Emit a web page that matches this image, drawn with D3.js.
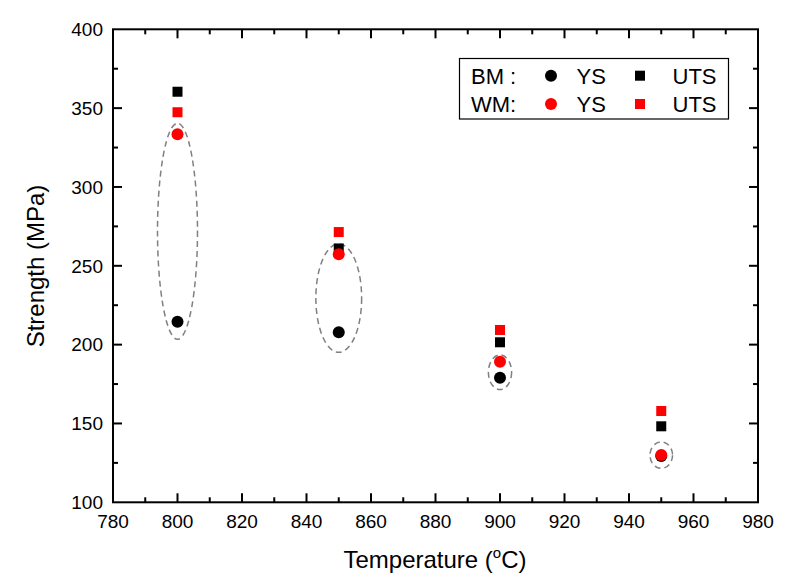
<!DOCTYPE html>
<html><head><meta charset="utf-8">
<script src="https://cdn.jsdelivr.net/npm/d3@7"></script>
<style>body{margin:0;background:#fff;} svg{display:block;font-family:"Liberation Sans",Arial,sans-serif;}</style>
</head><body>
<svg id="c" width="794" height="586"></svg>
<script>
const temperatures = [800, 850, 900, 950];
const bmYS  = [214.5, 207.8, 179, 129.4];
const bmUTS = [360.4, 261, 201.5, 148.2];
const wmYS  = [333.4, 257.3, 189.2, 130];
const wmUTS = [347.4, 271.4, 209.3, 157.9];
// dashed grouping ellipses (data units): centre strength, half-width (°C), half-height (MPa)
const ellipseCY = [271.9, 229.5, 182.5, 129.9];
const ellipseRX = [6.2, 7.1, 3.6, 3.5];
const ellipseRY = [68.5, 34.4, 11.0, 8.4];
const xTicks = [780, 800, 820, 840, 860, 880, 900, 920, 940, 960, 980];
const yTicks = [100, 150, 200, 250, 300, 350, 400];

const svg = d3.select("#c");
const L = 113, R = 758, T = 29.3, B = 502.3;
const x = d3.scaleLinear().domain([780, 980]).range([L, R]);
const y = d3.scaleLinear().domain([100, 400]).range([B, T]);

const xMinor = d3.range(790, 980, 20);
const yMinor = d3.range(125, 400, 50);

// ellipses
const g = svg.append("g");
temperatures.forEach((t, i) => {
  g.append("ellipse")
    .attr("cx", x(t)).attr("cy", y(ellipseCY[i]))
    .attr("rx", x(t + ellipseRX[i]) - x(t))
    .attr("ry", y(0) - y(ellipseRY[i]))
    .attr("fill", "none").attr("stroke", "#808080")
    .attr("stroke-width", 1.5).attr("stroke-dasharray", "6,4");
});

// axes
function drawTicks() {
  const a = svg.append("g").attr("stroke", "#000").attr("stroke-width", 2);
  xTicks.slice(1, -1).forEach(v => {
    a.append("line").attr("x1", x(v)).attr("x2", x(v)).attr("y1", B).attr("y2", B - 9);
    a.append("line").attr("x1", x(v)).attr("x2", x(v)).attr("y1", T).attr("y2", T + 9);
  });
  xMinor.forEach(v => {
    a.append("line").attr("x1", x(v)).attr("x2", x(v)).attr("y1", B).attr("y2", B - 5);
    a.append("line").attr("x1", x(v)).attr("x2", x(v)).attr("y1", T).attr("y2", T + 5);
  });
  yTicks.slice(1, -1).forEach(v => {
    a.append("line").attr("y1", y(v)).attr("y2", y(v)).attr("x1", L).attr("x2", L + 9);
    a.append("line").attr("y1", y(v)).attr("y2", y(v)).attr("x1", R).attr("x2", R - 9);
  });
  yMinor.forEach(v => {
    a.append("line").attr("y1", y(v)).attr("y2", y(v)).attr("x1", L).attr("x2", L + 5);
    a.append("line").attr("y1", y(v)).attr("y2", y(v)).attr("x1", R).attr("x2", R - 5);
  });
  svg.append("rect").attr("x", L).attr("y", T).attr("width", R - L).attr("height", B - T)
    .attr("fill", "none").attr("stroke", "#000").attr("stroke-width", 2);
}
drawTicks();

// tick labels
svg.append("g").selectAll("text").data(xTicks).join("text")
  .attr("x", d => x(d)).attr("y", 527.5).attr("text-anchor", "middle")
  .attr("font-size", 19).text(d => d);
svg.append("g").selectAll("text").data(yTicks).join("text")
  .attr("x", 103).attr("y", d => y(d)).attr("dy", "0.36em").attr("text-anchor", "end")
  .attr("font-size", 19).text(d => d);

// axis titles
const xt = svg.append("text").attr("x", 435).attr("y", 568).attr("text-anchor", "middle").attr("font-size", 24);
xt.append("tspan").text("Temperature (");
xt.append("tspan").attr("font-size", 15).attr("dy", -10).text("o");
xt.append("tspan").attr("dy", 10).text("C)");
svg.append("text").attr("transform", "translate(44,266) rotate(-90)").attr("text-anchor", "middle")
  .attr("font-size", 24).text("Strength (MPa)");

// markers
function circles(vals, color) {
  svg.append("g").selectAll("circle").data(temperatures).join("circle")
    .attr("cx", d => x(d)).attr("cy", (d, i) => y(vals[i])).attr("r", 6).attr("fill", color);
}
function squares(vals, color) {
  svg.append("g").selectAll("rect").data(temperatures).join("rect")
    .attr("x", d => x(d) - 5).attr("y", (d, i) => y(vals[i]) - 5)
    .attr("width", 10).attr("height", 10).attr("fill", color);
}
circles(bmYS, "#000");
squares(bmUTS, "#000");
circles(wmYS, "#ff0000");
squares(wmUTS, "#ff0000");

// legend
const lg = svg.append("g");
lg.append("rect").attr("x", 459.5).attr("y", 58.5).attr("width", 269).attr("height", 60.5)
  .attr("fill", "#fff").attr("stroke", "#000").attr("stroke-width", 1.2);
const rows = [
  {label: "BM :", color: "#000", cy: 75.7},
  {label: "WM:", color: "#ff0000", cy: 104}
];
rows.forEach(r => {
  lg.append("text").attr("x", 471).attr("y", r.cy).attr("dy", "0.36em").attr("font-size", 22).text(r.label);
  lg.append("circle").attr("cx", 551).attr("cy", r.cy).attr("r", 6).attr("fill", r.color);
  lg.append("text").attr("x", 576.5).attr("y", r.cy).attr("dy", "0.36em").attr("font-size", 22).text("YS");
  lg.append("rect").attr("x", 635).attr("y", r.cy - 5).attr("width", 10).attr("height", 10).attr("fill", r.color);
  lg.append("text").attr("x", 672.5).attr("y", r.cy).attr("dy", "0.36em").attr("font-size", 22).text("UTS");
});
</script>
</body></html>
